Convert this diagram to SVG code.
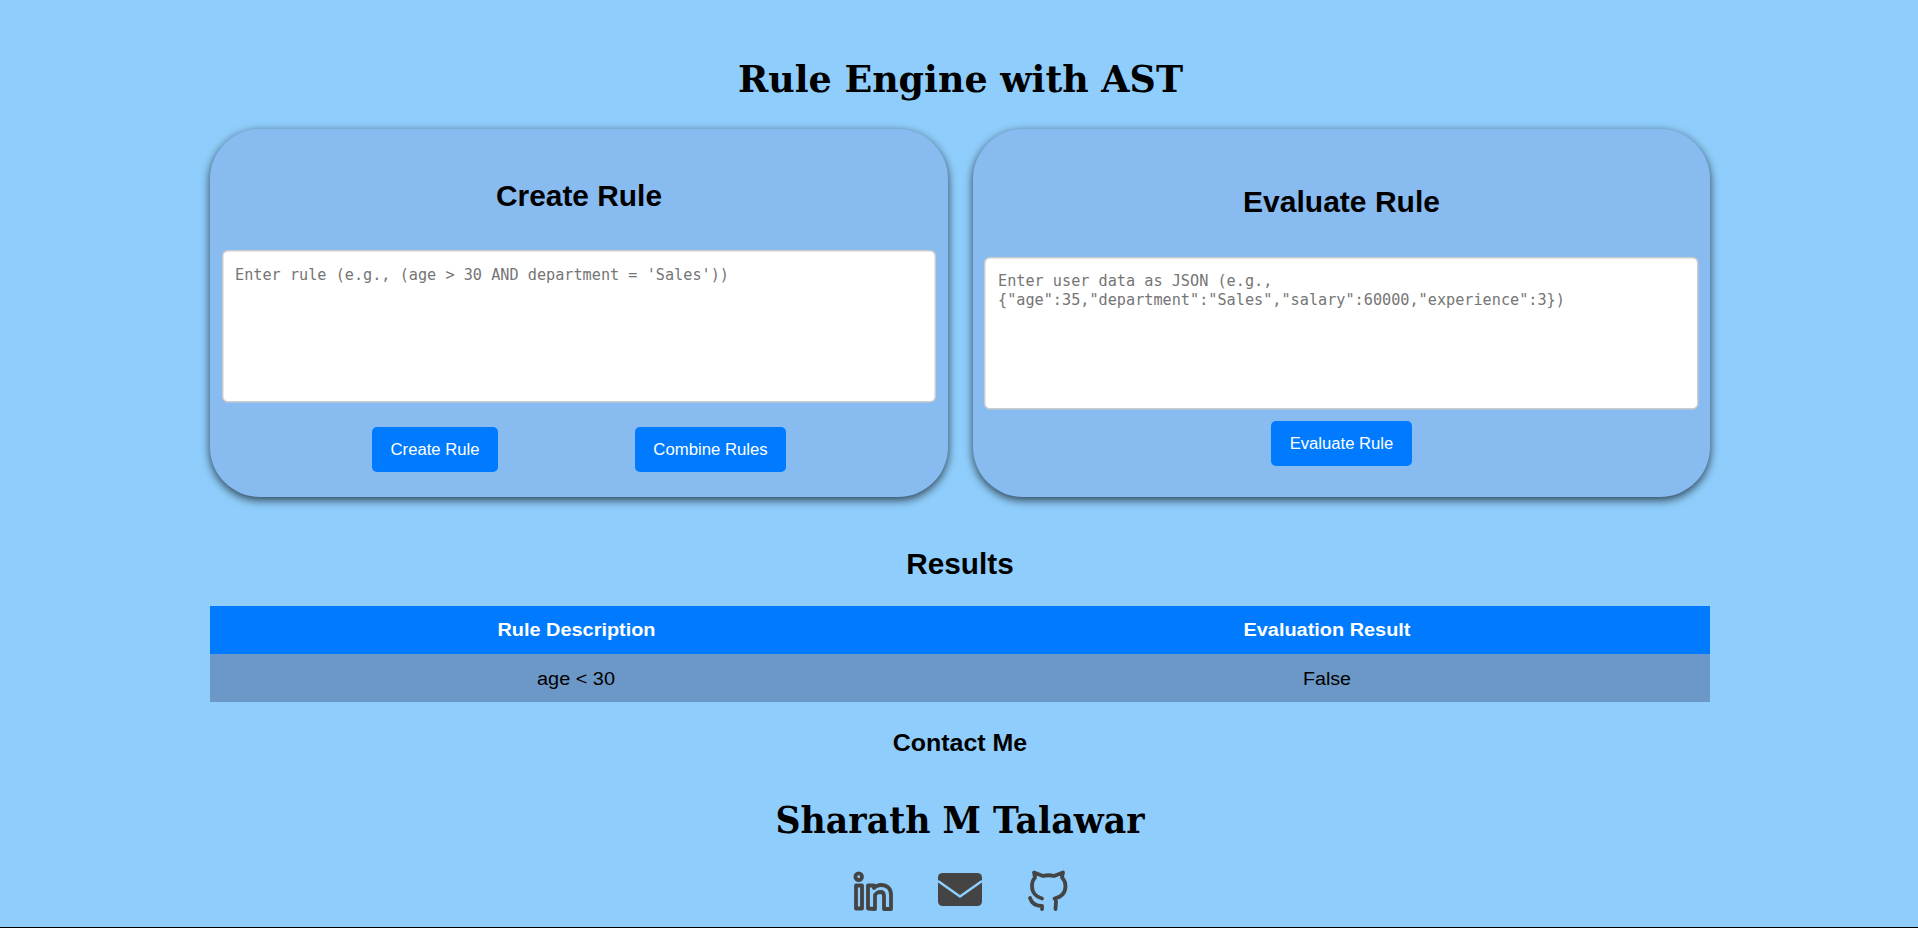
<svg xmlns="http://www.w3.org/2000/svg" width="1918" height="928" viewBox="0 0 1918 928">
<defs>
<filter id="sh" x="-10%" y="-10%" width="120%" height="120%" color-interpolation-filters="sRGB"><feDropShadow dx="0" dy="3" stdDeviation="5" flood-color="#000" flood-opacity="0.7"/></filter>
</defs>
<style>
text{text-anchor:middle;font-family:"Liberation Sans",Arial,sans-serif}
.serif{font-family:"DejaVu Serif",serif;font-weight:700;font-size:37px}
.h2{font-size:28.8px;font-weight:700}
.ph{font-family:"DejaVu Sans Mono",monospace;font-size:15.2px;fill:#757575;text-anchor:start}
.btn{fill:#007bff}
.bt{fill:#fff;font-size:16px}
.panel{fill:#88bbf0;filter:url(#sh)}
.ta{fill:#fff;stroke:#ccc;stroke-width:1.5}
.ic{fill:none;stroke:#444;stroke-width:3.8;stroke-linecap:round;stroke-linejoin:round}
</style>
<rect width="1918" height="928" fill="#8fcefc"/>
<text id="title" class="serif" x="960.500" y="92" textLength="445" lengthAdjust="spacingAndGlyphs">Rule Engine with AST</text>
<g id="create-panel">
<rect class="panel" x="210" y="129" width="738" height="368" rx="50"/>
<text class="h2" x="579" y="206" textLength="166" lengthAdjust="spacingAndGlyphs">Create Rule</text>
<rect class="ta" x="222.75" y="250.75" width="712.5" height="151" rx="5"/>
<text class="ph" x="235" y="279.500" textLength="494" lengthAdjust="spacingAndGlyphs">Enter rule (e.g., (age &gt; 30 AND department = 'Sales'))</text>
<g id="btn-create"><rect class="btn" x="372" y="427" width="126" height="45" rx="5"/><text class="bt" x="435" y="455" textLength="88.800" lengthAdjust="spacingAndGlyphs">Create Rule</text></g>
<g id="btn-combine"><rect class="btn" x="635" y="427" width="151" height="45" rx="5"/><text class="bt" x="710.500" y="455" textLength="114.300" lengthAdjust="spacingAndGlyphs">Combine Rules</text></g>
</g>
<g id="evaluate-panel">
<rect class="panel" x="973" y="129" width="737" height="368" rx="50"/>
<text class="h2" x="1341.500" y="212" textLength="197" lengthAdjust="spacingAndGlyphs">Evaluate Rule</text>
<rect class="ta" x="984.75" y="257.75" width="713" height="151" rx="5"/>
<text class="ph" x="998" y="285.500">Enter user data as JSON (e.g.,</text>
<text class="ph" x="998" y="304.500">{"age":35,"department":"Sales","salary":60000,"experience":3})</text>
<g id="btn-evaluate"><rect class="btn" x="1271" y="421" width="141" height="45" rx="5"/><text class="bt" x="1341.500" y="449" textLength="103.600" lengthAdjust="spacingAndGlyphs">Evaluate Rule</text></g>
</g>
<text id="results" class="h2" x="960" y="574" textLength="107.500" lengthAdjust="spacingAndGlyphs">Results</text>
<g id="table">
<rect x="210" y="606" width="1500" height="48" fill="#007bff"/>
<rect x="210" y="654" width="1500" height="48" fill="#6c98c8"/>
<text x="576.500" y="636" font-size="19.2" font-weight="700" fill="#fff" textLength="158" lengthAdjust="spacingAndGlyphs">Rule Description</text>
<text x="1327" y="636" font-size="19.2" font-weight="700" fill="#fff" textLength="167" lengthAdjust="spacingAndGlyphs">Evaluation Result</text>
<text x="576" y="685" font-size="19.2" textLength="78" lengthAdjust="spacingAndGlyphs">age &lt; 30</text>
<text x="1327" y="685" font-size="19.2" textLength="48" lengthAdjust="spacingAndGlyphs">False</text>
</g>
<text id="contact" x="960" y="751" font-size="24" font-weight="700" textLength="134.500" lengthAdjust="spacingAndGlyphs">Contact Me</text>
<text id="name" class="serif" x="960" y="832.500" textLength="369" lengthAdjust="spacingAndGlyphs">Sharath M Talawar</text>
<g id="linkedin"><circle class="ic" cx="858.700" cy="876.700" r="3.300"/><path class="ic" d="M856 885.500h6v23h-6zM868 908.500v-23h6v2.500c2-2 4-3 7-3 6 0 10 3.500 10 9.500v14.500h-7v-13c0-2.500-1-4-3.500-4s-5.500 1.500-5.500 4v13z"/></g>
<g id="email"><rect x="938" y="873" width="44" height="33" rx="4.500" fill="#444"/><path d="M938 881l22 15.500 22-15.500" fill="none" stroke="#8fcefc" stroke-width="2.500"/></g>
<g id="github"><path class="ic" d="M1042 898.500c-6-1.500-10-6-10-12.500 0-3.500 1-6.500 3-8.500l-1-5 9 3.500c3-.8 8-.8 11 0l9-3.500-1 5c2 2 3.500 5 3.500 8.500 0 6.500-4 11-11 12.500 1.500 1 1.500 2 1.500 3l-.5 7.500M1030 898c1.500 5 6 8 12 8v3"/></g>
<rect id="baseline" y="927" width="1918" height="1" fill="#000"/>
</svg>
